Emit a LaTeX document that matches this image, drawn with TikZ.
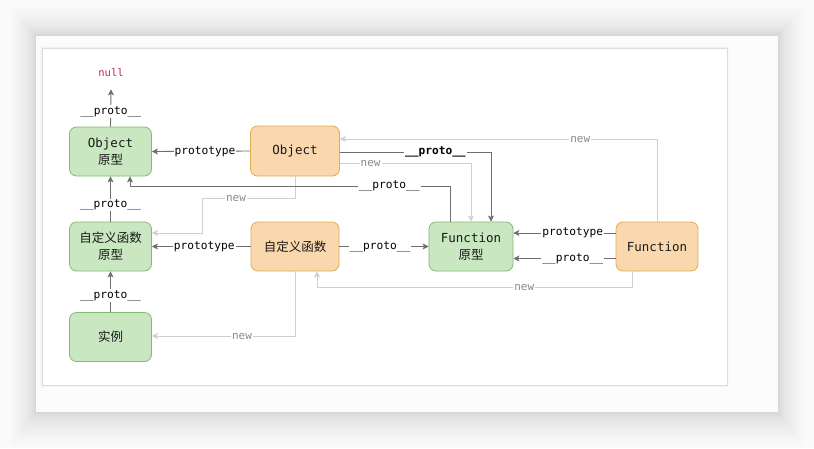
\documentclass[tikz,border=0pt]{standalone}
\usepackage{fontspec}
\setmainfont{DejaVu Sans Mono}
\newfontfamily\cjk{Noto Sans CJK SC}
\usetikzlibrary{arrows.meta}
\definecolor{bgcol}{HTML}{FAFAFA}
\definecolor{cardcol}{HTML}{FCFCFC}
\definecolor{framecol}{HTML}{DDDDDD}
\definecolor{gfill}{HTML}{C9E7C1}
\definecolor{gdraw}{HTML}{86B878}
\definecolor{ofill}{HTML}{FAD7AC}
\definecolor{odraw}{HTML}{DCAE56}
\definecolor{dline}{HTML}{6E6E6E}
\definecolor{lline}{HTML}{CFCFCF}
\definecolor{newtxt}{HTML}{8A8A8A}
\definecolor{nullcol}{HTML}{C8265C}
\newcommand\ppr{\_\_proto\_\_}
\begin{document}
\begin{tikzpicture}[x=1pt,y=-1pt,
  box/.style={rounded corners=7pt, line width=0.8pt, align=center, inner sep=2pt,
    font=\fontsize{12.5}{17}\selectfont, text=black!90},
  gbox/.style={box, fill=gfill, draw=gdraw, minimum width=82pt, minimum height=49pt},
  obox/.style={box, fill=ofill, draw=odraw, minimum width=88pt, minimum height=49pt},
  darrow/.style={draw=dline, line width=0.9pt, -{Stealth[length=6pt,width=6pt,inset=1.5pt]}},
  larrow/.style={draw=lline, line width=0.9pt, -{Stealth[length=6pt,width=6pt,inset=1.5pt]}},
  lbl/.style={font=\fontsize{11.2}{13}\selectfont, fill=white, inner sep=1pt, text=black},
  nlbl/.style={font=\fontsize{11}{13}\selectfont, fill=white, inner sep=1pt, text=newtxt},
  nullst/.style={font=\fontsize{10.5}{12}\selectfont, text=nullcol, inner sep=2pt}
]
\useasboundingbox (0,0) rectangle (814,448);
\fill[bgcol] (0,0) rectangle (814,448);
% card shadow (denser near the card, fading outwards)
\foreach \i in {1,...,20}{
  \pgfmathsetmacro{\d}{0.08*\i*\i}
  \fill[black, opacity=0.008] (36-0.8*\d, 36-0.9*\d) rectangle (778+0.8*\d, 412+1.05*\d);
}
\fill[cardcol] (36,36) rectangle (778,412);
\foreach \i in {1,...,3}{
  \fill[black, opacity=0.015] (42-\i*0.6, 48-\i*0.6) rectangle (727+\i*0.6, 385+\i*0.8);
}
\filldraw[fill=white, draw=framecol, line width=0.8pt] (42,48) rectangle (727,385);

% nodes
\node[nullst] (null) at (111,73) {null};
\node[gbox] (objP) at (110.5,151.5) {Object\\{\cjk 原型}};
\node[obox, minimum width=89pt, minimum height=50pt] (obj) at (295,151) {Object};
\node[gbox] (fnP) at (110.5,246.5) {{\cjk 自定义函数}\\{\cjk 原型}};
\node[obox] (fn) at (295,246.5) {\cjk 自定义函数};
\node[gbox] (inst) at (110.5,337) {\cjk 实例};
\node[gbox, minimum width=84pt] (FnP) at (471,246.5) {Function\\{\cjk 原型}};
\node[obox, minimum width=82pt] (Fn) at (657,246.5) {Function};

% "new" connectors (light)
\draw[larrow] (Fn.north) |- ([yshift=12pt]obj.east)
  node[nlbl, pos=0.621] (n1) {new};
\draw[larrow] ([yshift=-12pt]obj.east) -| (FnP.north)
  node[nlbl, pos=0.117] (n2) {new};
\coordinate (c12) at (202,198);
\draw[larrow] (obj.south) |- (c12) node[nlbl, pos=0.817] (n3) {new}
  |- ([yshift=13.5pt]fnP.east);
\draw[larrow] ([xshift=-25pt]Fn.south) -- ++(0,16) -| ([xshift=22pt]fn.south)
  node[nlbl, pos=0.171] (n4) {new};
\draw[larrow] (fn.south) |- ([yshift=1pt]inst.east)
  node[nlbl, pos=0.685] (n5) {new};

% dark connectors
\draw[darrow] (objP.north) -- ([yshift=-10pt]null.south)
  node[lbl, pos=0.4] (l1) {\ppr};
\draw[darrow] (obj.west) -- (objP.east) node[lbl, pos=0.46] (l2) {prototype};
\draw[darrow] (fnP.north) -- (objP.south) node[lbl, pos=0.37] (l3) {\ppr};
\draw[darrow] (fn.west) -- (fnP.east) node[lbl, pos=0.47] (l4) {prototype};
\draw[darrow] (inst.north) -- (fnP.south) node[lbl, pos=0.41] (l5) {\ppr};
\draw[darrow] (fn.east) -- (FnP.west) node[lbl, pos=0.455] (l6) {\ppr};
\draw[darrow] ([yshift=13.5pt]Fn.west) -- ([yshift=13.5pt]FnP.east)
  node[lbl, pos=0.42] (l7) {prototype};
\draw[darrow] ([yshift=-12pt]Fn.west) -- ([yshift=-12pt]FnP.east)
  node[lbl, pos=0.42] (l8) {\ppr};
\draw[darrow] ([yshift=-1pt]obj.east) -| ([xshift=20pt]FnP.north)
  node[lbl, pos=0.316, font=\fontsize{11.2}{13}\selectfont\bfseries] (l9) {\ppr};
\coordinate (c9) at (130,186);
\draw[darrow] ([xshift=-21pt]FnP.north) |- (c9) node[lbl, pos=0.595] (l10) {\ppr}
  -- ([xshift=19.5pt]objP.south);
\end{tikzpicture}
\end{document}
